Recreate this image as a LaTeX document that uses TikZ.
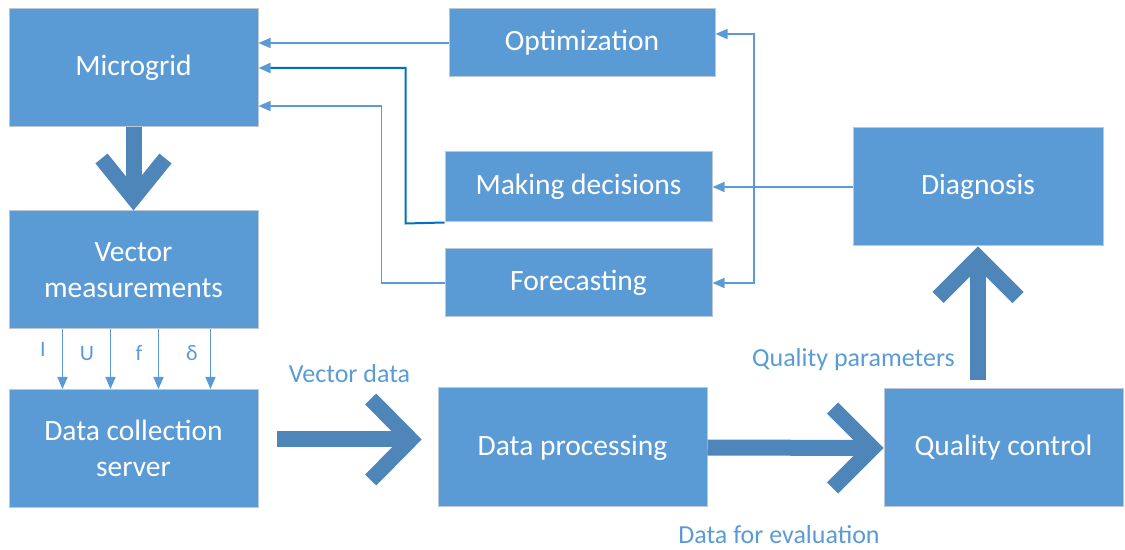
\documentclass[tikz,border=0pt]{standalone}
\usepackage{fontspec}
\setmainfont{Carlito}
\usetikzlibrary{arrows.meta,calc}
\definecolor{boxblue}{RGB}{91,155,213}
\definecolor{arrowblue}{RGB}{78,134,186}
\definecolor{darkline}{RGB}{0,112,192}
\definecolor{boxedge}{RGB}{190,200,212}
\begin{document}
\begin{tikzpicture}[x=0.5pt,y=-0.5pt,
  box/.style={draw=boxedge, line width=0.5pt, fill=boxblue, text=white, align=center, inner sep=0pt, font=\fontsize{14.75}{18}\selectfont},
  bigbox/.style={box, minimum width=124.5pt, minimum height=59pt},
  conn/.style={draw=boxblue, line width=0.75pt, -{Triangle[length=6pt,width=5pt]}},
  dconn/.style={draw=darkline, line width=1pt, -{Triangle[length=6pt,width=5pt,color=boxblue]}},
  shaft/.style={draw=arrowblue, line width=8pt},
  chev/.style={draw=arrowblue, line width=7.8pt, line join=miter},
  lbl/.style={text=boxblue, font=\fontsize{13}{15}\selectfont, inner sep=0pt, anchor=base},
  sym/.style={text=boxblue, font=\fontsize{11}{13}\selectfont, inner sep=0pt, anchor=base}]
\useasboundingbox (0,0) rectangle (1125,550);

% boxes
\node[bigbox] (mg) at (133.5,68) {Microgrid};
\node[bigbox] (vm) at (133.5,270) {Vector\\measurements};
\node[bigbox] (dc) at (133.5,448.5) {Data collection\\server};
\node[box, minimum width=133pt, minimum height=34pt] (opt) at (582,43) {Optimization};
\node[box, minimum width=133.5pt, minimum height=35pt] (md) at (578.5,187) {Making decisions};
\node[box, minimum width=133.5pt, minimum height=34pt] (fc) at (578.5,283) {Forecasting};
\node[box, minimum width=125pt, minimum height=59pt] (dg) at (978,187) {Diagnosis};
\node[box, minimum width=134.5pt, minimum height=59.5pt] (dp) at (572.5,447.5) {Data processing};
\node[box, minimum width=119.5pt, minimum height=59pt] (qc) at (1003.5,448) {Quality control};

% labels
\node[lbl] (lvd) at (349.5,383) {Vector data};
\node[lbl] (lde) at (779,544) {Data for evaluation};
\node[lbl] (lqp) at (853.5,367) {Quality parameters};
\node[sym] (sI) at (43,357) {I};
\node[sym] (sU) at (87,361) {U};
\node[sym] (sf) at (139,361) {f};
\node[sym] (sd) at (192,361) {δ};

% thin connectors
\draw[conn] (opt.west) -- (opt.west -| mg.east);
\draw[dconn] (md.south west) -- ++(-39,1) |- (mg.east);
\draw[conn] (fc.west) -- ++(-63,0) |- ($(mg.east)+(0,38)$);
\draw[conn] (dg.west) -- (md.east);
\coordinate (jt) at (754,34);
\coordinate (jb) at (754,283);
\draw[conn, {Triangle[length=6pt,width=5pt]}-{Triangle[length=6pt,width=5pt]}] (opt.east |- jt) -- (jt) -- (jb) -- (fc.east);
\foreach \o in {54,102,150,202}
  \draw[conn] ($(vm.south west)+(\o,0)$) -- ($(dc.north west)+(\o,0)$);

% big arrows
\coordinate (a1) at ($(vm.north)+(0,-12.4)$);
\draw[shaft] (mg.south) -- (a1);
\draw[chev] ($(a1)+(-32,-39.6)$) -- (a1) -- ($(a1)+(32,-39.6)$);

\coordinate (s2) at (277,439.5);
\coordinate (a2) at (410.7,439.5);
\draw[shaft] (s2) -- (a2);
\draw[chev] ($(a2)+(-40,-40.5)$) -- (a2) -- ($(a2)+(-40,40.5)$);

\coordinate (a3) at ($(qc.west)+(-11,0)$);
\draw[shaft] (dp.east) -- (a3);
\draw[chev] ($(a3)+(-40,-40)$) -- (a3) -- ($(a3)+(-40,40)$);

\coordinate (s4) at (978,380);
\coordinate (a4) at ($(dg.south)+(0,11)$);
\draw[shaft] (s4) -- (a4);
\draw[chev] ($(a4)+(-40,40)$) -- (a4) -- ($(a4)+(40,40)$);
\end{tikzpicture}
\end{document}
